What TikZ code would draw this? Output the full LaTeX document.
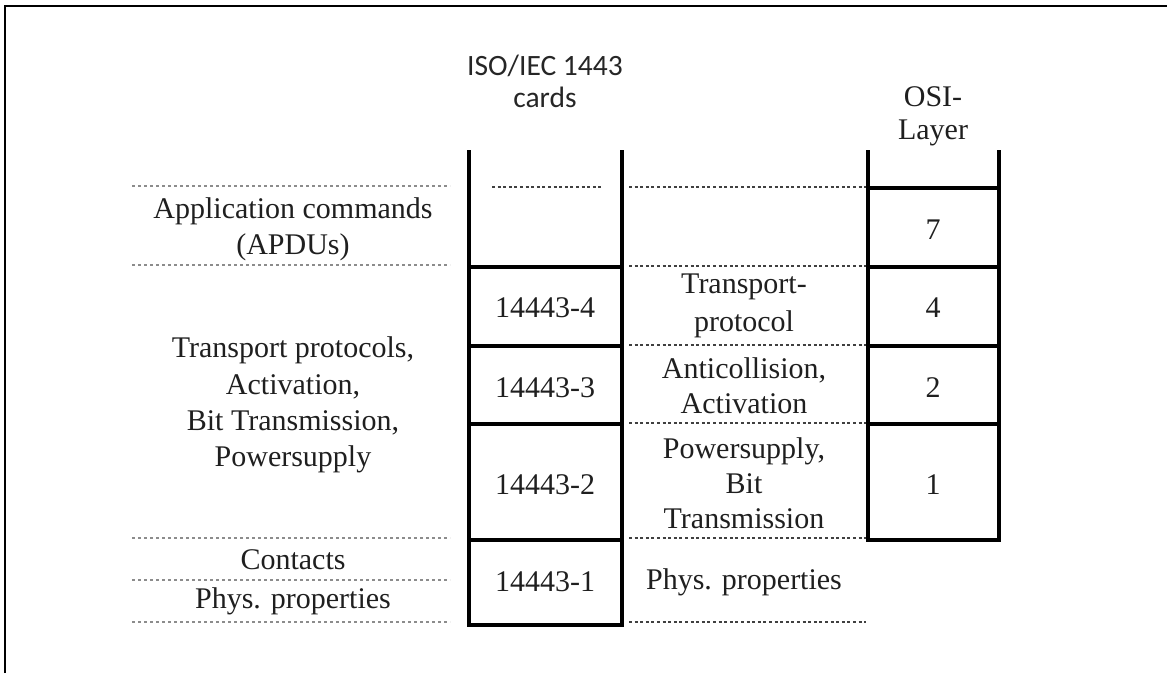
\documentclass[tikz,border=0pt]{standalone}
\usepackage{fontspec}
\setmainfont{Liberation Serif}
\newfontfamily\headsans{Carlito}

\begin{document}
\begin{tikzpicture}[x=1pt,y=-1pt,
  rule/.style={line width=3.6pt},
  guide/.style={line width=1.4pt, dash pattern=on 3pt off 2.6pt, black!75},
  faint/.style={line width=1.3pt, dash pattern=on 2.5pt off 3.5pt, black!45},
  lbl/.style={font=\fontsize{30}{36.3}\selectfont, align=center, inner sep=0pt, text=black!88},
  head/.style={font=\headsans\fontsize{29.5}{32}\selectfont, align=center, inner sep=0pt, text=black!85}]
\useasboundingbox (0,0) rectangle (1167,673);

% outer frame (top and left edges)
\draw[line width=2pt] (5,673) -- (5,6) -- (1167,6);

% column headings
\node[head] (hcard) at (545,81) {ISO/IEC 1443\\cards};
\node[lbl, font=\fontsize{30}{33}\selectfont] (hosi) at (933,116) {OSI-\\Layer};

% left description column: dotted separators
\draw[faint] (132,186) -- (450,186);
\draw[faint] (132,265) -- (450,265);
\draw[faint] (132,538) -- (450,538);
\draw[faint] (132,580) -- (450,580);
\draw[faint] (132,622) -- (450,622);

% ISO/IEC 14443 column
\draw[rule] (469,150) -- (469,627);
\draw[rule] (622,150) -- (622,627);
\draw[rule] (469,267) -- (622,267);
\draw[rule] (469,346) -- (622,346);
\draw[rule] (469,424) -- (622,424);
\draw[rule] (469,540) -- (622,540);
\draw[rule] (467.2,625) -- (623.8,625);
\draw[guide] (492,187) -- (603,187);

% middle column: dashed separators
\foreach \yy in {187,266,345,423,538,622}
  \draw[guide] (629,\yy) -- (866,\yy);

% OSI layer column
\draw[rule] (868,150) -- (868,542);
\draw[rule] (999,150) -- (999,542);
\foreach \yy in {188,267,346,424}
  \draw[rule] (868,\yy) -- (999,\yy);
\draw[rule] (866.2,540) -- (1000.8,540);

% left column texts
\node[lbl] (apdu) at (293,229) {Application commands\\(APDUs)};
\node[lbl] (trans) at (293,405) {Transport protocols,\\Activation,\\Bit Transmission,\\Powersupply};
\node[lbl] (cont) at (293,560) {Contacts};
\node[lbl] (physl) at (293,601) {Phys. properties};

% standard parts
\node[lbl] (p4) at (545,308) {14443-4};
\node[lbl] (p3) at (545,388) {14443-3};
\node[lbl] (p2) at (545,485) {14443-2};
\node[lbl] (p1) at (545,582) {14443-1};

% middle column texts
\node[lbl, font=\fontsize{30}{37.5}\selectfont] (mtp) at (744,306) {Transport-\\protocol};
\node[lbl, font=\fontsize{30}{35}\selectfont] (mac) at (744,386) {Anticollision,\\Activation};
\node[lbl, font=\fontsize{30}{35}\selectfont] (mps) at (744,483) {Powersupply,\\Bit\\Transmission};
\node[lbl] (mph) at (744,582) {Phys. properties};

% OSI layer numbers
\node[lbl] (o7) at (933,230) {7};
\node[lbl] (o4) at (933,308) {4};
\node[lbl] (o2) at (933,388) {2};
\node[lbl] (o1) at (933,485) {1};
\end{tikzpicture}
\end{document}
